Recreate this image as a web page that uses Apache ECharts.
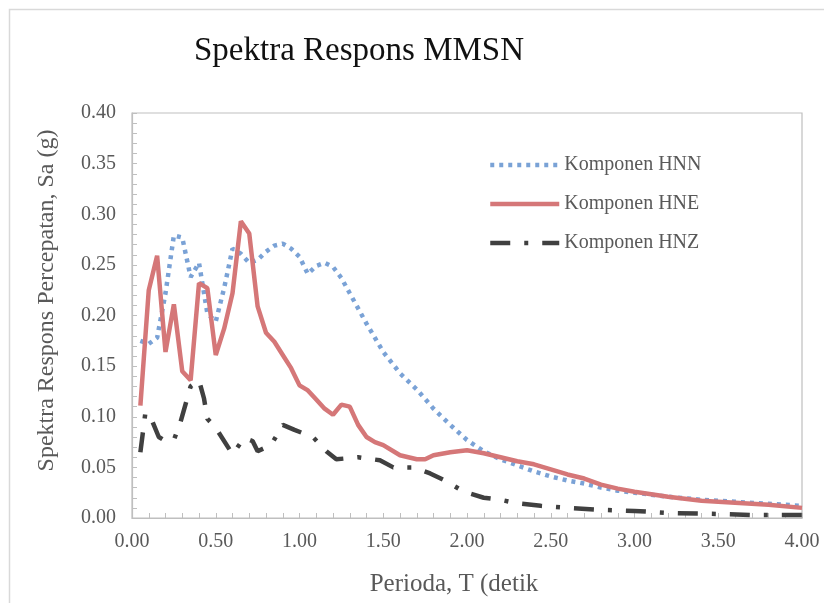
<!DOCTYPE html>
<html>
<head>
<meta charset="utf-8">
<script src="https://cdn.jsdelivr.net/npm/echarts@6/dist/echarts.min.js"></script>
<style>
html,body{margin:0;padding:0;background:#fff;}
#chart{width:824px;height:603px;}
</style>
</head>
<body>
<div id="chart"></div>
<script>
var titleText = 'Spektra Respons MMSN';
var xAxisName = 'Perioda, T (detik';
var yAxisName = 'Spektra Respons Percepatan, Sa (g)';
var seriesNames = ['Komponen HNN', 'Komponen HNE', 'Komponen HNZ'];

var hnnT = [0.05,0.10,0.15,0.20,0.25,0.30,0.35,0.40,0.45,0.50,0.55,0.60,0.65,0.70,0.75,0.80,0.85,0.90,0.95,1.00,1.05,1.10,1.15,1.20,1.25,1.30,1.35,1.40,1.50,1.60,1.70,1.80,1.90,2.00,2.10,2.20,2.30,2.40,2.50,2.60,2.70,2.80,2.90,3.00,3.20,3.40,3.60,3.80,4.00];
var hnnSa = [0.175,0.172,0.178,0.222,0.279,0.277,0.238,0.252,0.202,0.194,0.227,0.266,0.261,0.252,0.255,0.263,0.269,0.271,0.266,0.258,0.241,0.249,0.252,0.248,0.237,0.222,0.207,0.192,0.164,0.143,0.127,0.108,0.092,0.077,0.066,0.058,0.052,0.046,0.041,0.037,0.034,0.030,0.027,0.025,0.021,0.018,0.016,0.014,0.012];

var hneT = [0.05,0.10,0.15,0.20,0.25,0.30,0.35,0.40,0.45,0.50,0.55,0.60,0.65,0.70,0.75,0.80,0.85,0.90,0.95,1.00,1.05,1.10,1.15,1.20,1.25,1.30,1.35,1.40,1.45,1.50,1.60,1.70,1.75,1.80,1.90,2.00,2.10,2.20,2.30,2.40,2.50,2.60,2.70,2.80,2.90,3.00,3.20,3.40,3.60,3.80,4.00];
var hneSa = [0.111,0.225,0.259,0.164,0.211,0.145,0.136,0.232,0.227,0.161,0.187,0.222,0.293,0.281,0.209,0.183,0.174,0.161,0.148,0.131,0.126,0.117,0.108,0.102,0.112,0.110,0.092,0.080,0.075,0.072,0.062,0.058,0.058,0.062,0.065,0.067,0.064,0.060,0.056,0.053,0.048,0.043,0.039,0.033,0.029,0.026,0.021,0.017,0.015,0.013,0.010];

var hnzT = [0.05,0.08,0.12,0.16,0.20,0.25,0.29,0.35,0.40,0.43,0.45,0.50,0.60,0.67,0.72,0.75,0.83,0.90,0.97,1.08,1.16,1.22,1.35,1.48,1.56,1.68,1.78,1.88,1.98,2.10,2.20,2.30,2.44,2.60,2.80,3.00,3.20,3.50,3.70,4.00];
var hnzSa = [0.065,0.104,0.096,0.080,0.076,0.077,0.095,0.130,0.136,0.118,0.098,0.089,0.063,0.079,0.076,0.066,0.072,0.092,0.087,0.080,0.066,0.058,0.060,0.057,0.050,0.050,0.044,0.036,0.026,0.020,0.018,0.0145,0.012,0.010,0.008,0.007,0.005,0.004,0.003,0.003];

var xTickValues = ['0.00','0.50','1.00','1.50','2.00','2.50','3.00','3.50','4.00'];
var yTickValues = ['0.00','0.05','0.10','0.15','0.20','0.25','0.30','0.35','0.40'];

function pairs(t, v) { return t.map(function (x, i) { return [x, v[i]]; }); }

var FONT = '"Liberation Serif", "Times New Roman", serif';
var chart = echarts.init(document.getElementById('chart'), null, {renderer: 'canvas'});
chart.setOption({
  backgroundColor: '#ffffff',
  animation: false,
  graphic: [{
    type: 'rect', left: 7, top: 7, silent: true,
    shape: {x: 0, y: 0, width: 840, height: 620},
    style: {fill: 'none', stroke: '#d9d9d9', lineWidth: 1.5}
  }],
  title: {
    text: titleText, left: 189, top: 30,
    textStyle: {fontFamily: FONT, fontSize: 33, fontWeight: 'normal', color: '#111111'}
  },
  legend: {
    orient: 'vertical', left: 488, top: 155, padding: 0,
    itemWidth: 69, itemHeight: 14, itemGap: 19,
    itemStyle: {opacity: 0},
    lineStyle: {width: 4.5},
    textStyle: {fontFamily: FONT, fontSize: 20, color: '#595959', lineHeight: 20},
    data: seriesNames
  },
  grid: {left: 132, right: 22, top: 113, bottom: 85, show: true, borderColor: '#bfbfbf', borderWidth: 1.2, containLabel: false},
  xAxis: {
    type: 'value', min: 0, max: 4, interval: 0.5,
    name: xAxisName, nameLocation: 'middle', nameGap: 54,
    nameTextStyle: {fontFamily: FONT, fontSize: 25, color: '#595959', padding: [0, 26, 0, 0]},
    axisLine: {show: true, lineStyle: {color: '#bfbfbf', width: 1.2}},
    axisTick: {show: true, inside: true, length: 5, lineStyle: {color: '#bfbfbf'}},
    minorTick: {show: true, splitNumber: 5, length: 5, lineStyle: {color: '#bfbfbf'}},
    splitLine: {show: false},
    axisLabel: {fontFamily: FONT, fontSize: 20, color: '#595959', margin: 14,
      formatter: function (v) { return xTickValues[Math.round(v / 0.5)]; }}
  },
  yAxis: {
    type: 'value', min: 0, max: 0.4, interval: 0.05,
    name: yAxisName, nameLocation: 'middle', nameGap: 73,
    nameTextStyle: {fontFamily: FONT, fontSize: 24, color: '#595959', padding: [0, 0, 0, 30]},
    axisLine: {show: true, lineStyle: {color: '#bfbfbf', width: 1.2}},
    axisTick: {show: true, inside: true, length: 5, lineStyle: {color: '#bfbfbf'}},
    minorTick: {show: true, splitNumber: 5, length: 5, lineStyle: {color: '#bfbfbf'}},
    splitLine: {show: false},
    axisLabel: {fontFamily: FONT, fontSize: 20, color: '#595959', margin: 16,
      formatter: function (v) { return yTickValues[Math.round(v / 0.05)]; }}
  },
  series: [
    {name: seriesNames[0], type: 'line', symbol: 'none', data: pairs(hnnT, hnnSa),
      itemStyle: {color: '#7aa2d6'},
      lineStyle: {color: '#7aa2d6', width: 4.5, type: [4, 5], cap: 'butt'}},
    {name: seriesNames[1], type: 'line', symbol: 'none', data: pairs(hneT, hneSa),
      itemStyle: {color: '#d57778'},
      lineStyle: {color: '#d57778', width: 4.5, type: 'solid'}},
    {name: seriesNames[2], type: 'line', symbol: 'none', data: pairs(hnzT, hnzSa),
      itemStyle: {color: '#404040'},
      lineStyle: {color: '#404040', width: 4.5, type: [20, 14, 4, 14], cap: 'butt'}}
  ]
});
</script>
</body>
</html>
